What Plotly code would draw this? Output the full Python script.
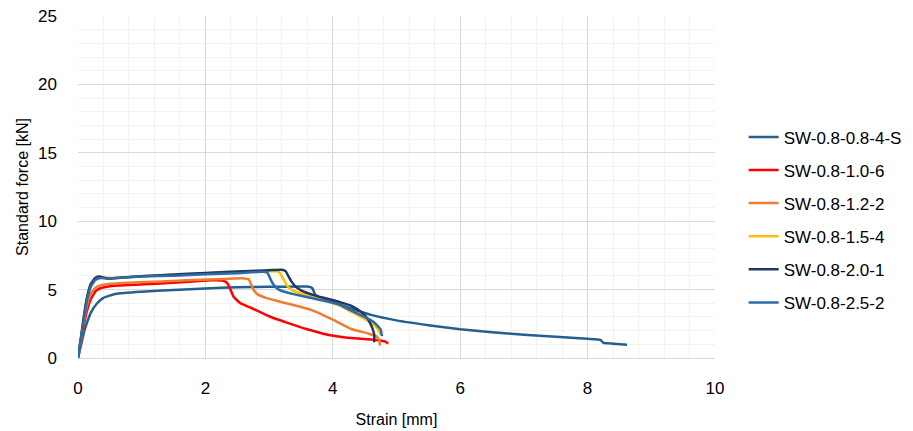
import plotly.graph_objects as go

names = ["SW-0.8-0.8-4-S", "SW-0.8-1.0-6", "SW-0.8-1.2-2", "SW-0.8-1.5-4", "SW-0.8-2.0-1", "SW-0.8-2.5-2"]
colors = ["#255E91", "#FF0000", "#ED7D31", "#FFC000", "#1F3864", "#2D6AA8"]

x_s1 = [0, 0.05, 0.1, 0.15, 0.2, 0.3, 0.4, 0.6, 1.0, 1.5, 2.0, 2.5, 3.0, 3.6, 3.68, 3.72, 3.8, 4.0, 4.3, 4.6, 5.0, 5.5, 6.0, 6.5, 7.0, 7.5, 8.0, 8.2, 8.25, 8.4, 8.62]
y_s1 = [0, 1.0, 2.0, 2.7, 3.3, 4.0, 4.4, 4.7, 4.85, 4.97, 5.08, 5.18, 5.2, 5.22, 5.1, 4.65, 4.4, 4.1, 3.6, 3.15, 2.75, 2.4, 2.1, 1.88, 1.7, 1.55, 1.4, 1.32, 1.1, 1.05, 0.97]

x_s2 = [0, 0.05, 0.1, 0.15, 0.2, 0.28, 0.35, 0.5, 0.8, 1.3, 1.8, 2.1, 2.28, 2.34, 2.38, 2.44, 2.55, 2.7, 3.0, 3.3, 3.6, 3.9, 4.2, 4.5, 4.7, 4.82, 4.87]
y_s2 = [0, 1.2, 2.6, 3.6, 4.3, 4.9, 5.1, 5.25, 5.33, 5.45, 5.6, 5.68, 5.65, 5.5, 5.15, 4.5, 4.0, 3.7, 3.05, 2.55, 2.1, 1.72, 1.5, 1.38, 1.3, 1.22, 1.05]

x_s3 = [0, 0.05, 0.1, 0.15, 0.2, 0.28, 0.35, 0.5, 0.8, 1.3, 1.8, 2.3, 2.6, 2.68, 2.72, 2.76, 2.82, 2.95, 3.1, 3.4, 3.7, 4.0, 4.3, 4.55, 4.68, 4.73, 4.74]
y_s3 = [0, 1.4, 2.9, 4.0, 4.7, 5.15, 5.3, 5.42, 5.5, 5.6, 5.7, 5.78, 5.82, 5.75, 5.35, 4.95, 4.65, 4.4, 4.2, 3.85, 3.45, 2.8, 2.1, 1.8, 1.6, 1.3, 0.9]

x_s4 = [0, 0.05, 0.1, 0.15, 0.2, 0.27, 0.33, 0.4, 0.5, 0.8, 1.3, 2.0, 2.6, 3.0, 3.12, 3.17, 3.22, 3.28, 3.35, 3.5, 3.7, 3.9, 4.1, 4.3, 4.5, 4.65, 4.72, 4.75]
y_s4 = [0, 1.6, 3.3, 4.6, 5.4, 5.85, 5.95, 5.9, 5.85, 5.92, 6.05, 6.2, 6.3, 6.35, 6.33, 6.2, 5.8, 5.3, 5.0, 4.7, 4.45, 4.15, 3.85, 3.35, 2.85, 2.4, 2.0, 1.7]

x_s5 = [0, 0.05, 0.1, 0.15, 0.2, 0.27, 0.33, 0.4, 0.5, 0.8, 1.3, 2.0, 2.6, 3.0, 3.2, 3.26, 3.3, 3.35, 3.42, 3.5, 3.7, 3.9, 4.1, 4.3, 4.45, 4.55, 4.62, 4.65, 4.65]
y_s5 = [0, 1.6, 3.3, 4.6, 5.4, 5.85, 5.95, 5.88, 5.8, 5.92, 6.05, 6.22, 6.35, 6.42, 6.45, 6.35, 6.0, 5.6, 5.2, 4.95, 4.6, 4.35, 4.1, 3.8, 3.35, 2.85, 2.2, 1.7, 1.15]

x_s6 = [0, 0.05, 0.1, 0.15, 0.2, 0.27, 0.35, 0.45, 0.6, 1.0, 1.5, 2.0, 2.5, 2.9, 2.97, 3.0, 3.05, 3.12, 3.2, 3.4, 3.7, 3.9, 4.1, 4.3, 4.5, 4.65, 4.75, 4.77]
y_s6 = [0, 1.5, 3.1, 4.4, 5.2, 5.7, 5.85, 5.8, 5.85, 5.95, 6.02, 6.12, 6.2, 6.3, 6.25, 6.0, 5.5, 5.1, 4.9, 4.65, 4.35, 4.15, 3.9, 3.45, 3.0, 2.6, 2.1, 1.6]

xs = [x_s1, x_s2, x_s3, x_s4, x_s5, x_s6]
ys = [y_s1, y_s2, y_s3, y_s4, y_s5, y_s6]

x_ticks = [0, 2, 4, 6, 8, 10]
y_ticks = [0, 5, 10, 15, 20, 25]

FONT = "Liberation Sans, Arial, sans-serif"

fig = go.Figure()
for i in range(len(names)):
    fig.add_trace(go.Scatter(
        x=xs[i], y=ys[i], name=names[i], mode="lines",
        line=dict(color=colors[i], width=2.5, shape="spline", smoothing=0.4),
        legendgroup=names[i],
    ))

fig.update_layout(
    width=913, height=431,
    margin=dict(l=78, r=198, t=16, b=73, autoexpand=False),
    paper_bgcolor="white", plot_bgcolor="white",
    font=dict(family=FONT, size=16, color="#000000"),
    showlegend=True,
    legend=dict(
        x=1.045, y=0.404, xanchor="left", yanchor="middle",
        font=dict(family=FONT, size=17, color="#000000"),
        traceorder="grouped", tracegroupgap=8,
        bgcolor="rgba(0,0,0,0)",
    ),
    xaxis=dict(
        range=[0, 10], tickvals=x_ticks, ticktext=[str(v) for v in x_ticks],
        showgrid=True, gridcolor="#D9D9D9", gridwidth=1,
        minor=dict(dtick=0.4, showgrid=True, gridcolor="#F2F2F2", gridwidth=1),
        showline=True, linecolor="#D9D9D9", linewidth=1,
        zeroline=False, ticks="", ticklabelstandoff=15, automargin=False,
        title=dict(text="Strain [mm]", font=dict(family=FONT, size=16), standoff=16),
        tickfont=dict(family=FONT, size=17),
    ),
    yaxis=dict(
        range=[0, 25], tickvals=y_ticks, ticktext=[str(v) for v in y_ticks],
        showgrid=True, gridcolor="#D9D9D9", gridwidth=1,
        minor=dict(dtick=1, showgrid=True, gridcolor="#F2F2F2", gridwidth=1),
        showline=False, zeroline=False, ticks="", ticklabelstandoff=20, automargin=False,
        title=dict(text="Standard force [kN]", font=dict(family=FONT, size=16), standoff=5),
        tickfont=dict(family=FONT, size=17),
    ),
)

fig.write_html("out.html")
